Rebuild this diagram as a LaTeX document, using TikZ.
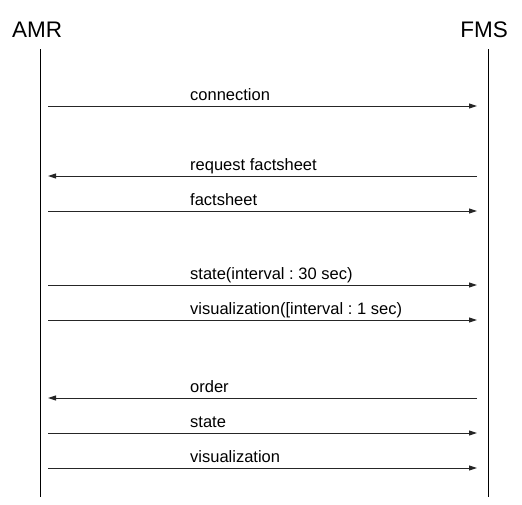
\documentclass[tikz,border=0pt]{standalone}
\usepackage{fontspec}
\setmainfont{Liberation Sans}
\usetikzlibrary{arrows.meta}
\begin{document}
\frenchspacing
\begin{tikzpicture}[x=1pt,y=-1pt,
  life/.style={line width=1pt,black},
  msg/.style={line width=1pt,black!85,-{Triangle[length=8pt,width=5pt]}},
  lbl/.style={anchor=base west,inner sep=0pt,font=\fontsize{16.5}{19}\selectfont},
  ttl/.style={inner sep=0pt,font=\fontsize{22.5}{26}\selectfont}]
\useasboundingbox (0,0) rectangle (522,504);
\node[ttl,anchor=base west] (amr) at (12,37) {AMR};
\node[ttl,anchor=base east] (fms) at (508,37) {FMS};
\coordinate (a0) at (40,49); \coordinate (a1) at (40,497);
\coordinate (f0) at (488.5,49); \coordinate (f1) at (488.5,497);
\draw[life] (a0) -- (a1);
\draw[life] (f0) -- (f1);
% message endpoints
\foreach \n/\y in {1/106,2/176,3/211,4/285,5/320,6/398,7/433,8/468}{
  \coordinate (l\n) at (48,\y);
  \coordinate (r\n) at (477,\y);
}
\draw[msg] (l1) -- (r1);
\draw[msg] (r2) -- (l2);
\draw[msg] (l3) -- (r3);
\draw[msg] (l4) -- (r4);
\draw[msg] (l5) -- (r5);
\draw[msg] (r6) -- (l6);
\draw[msg] (l7) -- (r7);
\draw[msg] (l8) -- (r8);
\node[lbl] (t1) at (190,100) {connection};
\node[lbl] (t2) at (190,170) {request factsheet};
\node[lbl] (t3) at (190,205) {factsheet};
\node[lbl] (t4) at (190,279) {state(interval : 30 sec)};
\node[lbl] (t5) at (190,314) {visualization([interval : 1 sec)};
\node[lbl] (t6) at (190,392) {order};
\node[lbl] (t7) at (190,427) {state};
\node[lbl] (t8) at (190,462) {visualization};
\end{tikzpicture}
\end{document}
